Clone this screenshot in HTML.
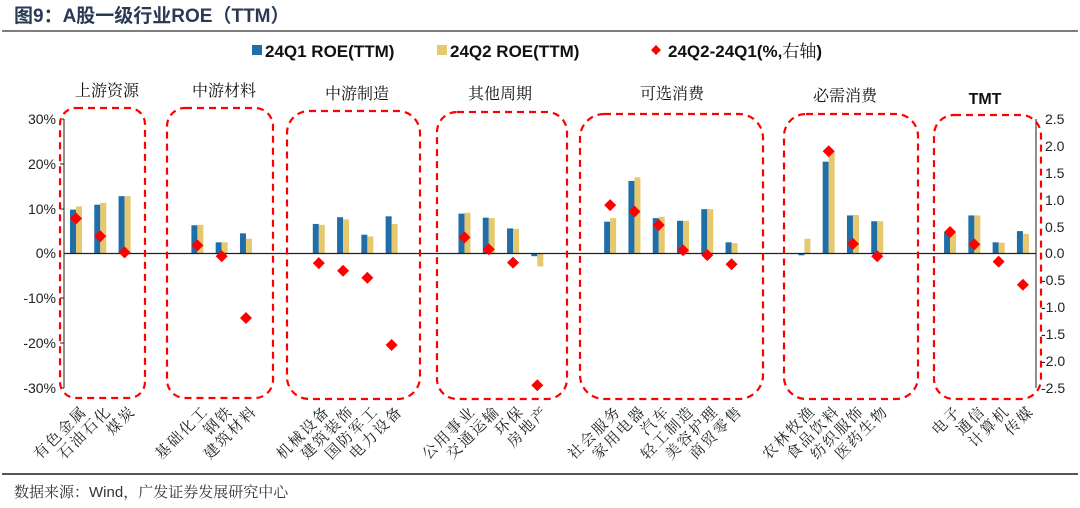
<!DOCTYPE html>
<html><head><meta charset="utf-8"><style>
body{margin:0;background:#fff;}
svg{display:block;}
text{font-family:"Liberation Sans","Noto Sans CJK SC",sans-serif;}
text.s,.s text{font-family:"Liberation Serif","Noto Serif CJK SC",serif;}
</style></head><body>
<svg width="1080" height="508" viewBox="0 0 1080 508" xmlns="http://www.w3.org/2000/svg">
<text x="14" y="22" font-size="19" font-weight="bold" fill="#2a3a55">图9：A股一级行业ROE（TTM）</text>
<line x1="2" y1="31" x2="1078" y2="31" stroke="#555" stroke-width="1.5"/>
<line x1="2" y1="474" x2="1078" y2="474" stroke="#555" stroke-width="2"/>
<text x="14" y="497" font-size="15" fill="#333" class="s">数据来源：<tspan font-family="Liberation Sans">Wind</tspan>，广发证券发展研究中心</text>
<rect x="252" y="45" width="10" height="10" fill="#1f6ea8"/>
<text x="265" y="57" font-size="17" font-weight="bold" fill="#111">24Q1 ROE(TTM)</text>
<rect x="437" y="45" width="10" height="10" fill="#e6c86e"/>
<text x="450" y="57" font-size="17" font-weight="bold" fill="#111">24Q2 ROE(TTM)</text>
<path d="M656 45 L661 50 L656 55 L651 50Z" fill="#f00"/>
<text x="668" y="57" font-size="17" font-weight="bold" fill="#111">24Q2-24Q1(%,<tspan font-weight="normal" font-family="Liberation Serif, Noto Serif CJK SC, serif">右轴</tspan>)</text>
<g font-size="16" fill="#111" text-anchor="middle">
<text x="107" y="96" class="s">上游资源</text>
<text x="224" y="96" class="s">中游材料</text>
<text x="357" y="99" class="s">中游制造</text>
<text x="500" y="99" class="s">其他周期</text>
<text x="672" y="99" class="s">可选消费</text>
<text x="845" y="101" class="s">必需消费</text>
<text x="985" y="104" font-weight="bold">TMT</text>
</g>
<g font-size="14" fill="#222">
<line x1="64" y1="119" x2="64" y2="388" stroke="#222"/>
<g text-anchor="end">
<text x="56" y="124">30%</text><text x="56" y="169">20%</text><text x="56" y="214">10%</text>
<text x="56" y="258">0%</text><text x="56" y="303">-10%</text><text x="56" y="348">-20%</text><text x="56" y="393">-30%</text>
</g>
<line x1="1036" y1="119" x2="1036" y2="388" stroke="#222"/>
<text x="1045" y="124">2.5</text><text x="1045" y="151">2.0</text><text x="1045" y="178">1.5</text>
<text x="1045" y="205">1.0</text><text x="1045" y="232">0.5</text><text x="1045" y="258">0.0</text>
<text x="1041" y="285">-0.5</text><text x="1041" y="312">-1.0</text><text x="1041" y="339">-1.5</text>
<text x="1041" y="366">-2.0</text><text x="1041" y="393">-2.5</text>
</g>
<g stroke="#222">
<line x1="60" y1="119" x2="64" y2="119"/><line x1="60" y1="164" x2="64" y2="164"/><line x1="60" y1="209" x2="64" y2="209"/><line x1="60" y1="298" x2="64" y2="298"/><line x1="60" y1="343" x2="64" y2="343"/><line x1="60" y1="388" x2="64" y2="388"/>
</g>
<g id="bars"></g>
<line x1="64" y1="253.5" x2="1036" y2="253.5" stroke="#222" stroke-width="1.3"/>
<g id="dia"></g>
<g fill="none" stroke="#f00" stroke-width="2.2" stroke-dasharray="7,5">
<rect x="60" y="108" width="85" height="290" rx="16"/>
<rect x="167" y="108" width="106" height="290" rx="18"/>
<rect x="287" y="111" width="133" height="288" rx="22"/>
<rect x="437" y="112" width="130" height="287" rx="20"/>
<rect x="580" y="114" width="183" height="285" rx="24"/>
<rect x="784" y="114" width="134" height="285" rx="22"/>
<rect x="934" y="115" width="107" height="284" rx="20"/>
</g>
<g id="lab" font-size="15" class="s" fill="#222"></g>
</svg>
<script>
var d=[
[0,"有色金属",9.8,10.5,0.65],[1,"石油石化",10.9,11.3,0.32],[2,"煤炭",12.8,12.8,0.02],
[5,"基础化工",6.3,6.4,0.15],[6,"钢铁",2.5,2.5,-0.05],[7,"建筑材料",4.5,3.3,-1.2],
[10,"机械设备",6.6,6.4,-0.18],[11,"建筑装饰",8.1,7.6,-0.32],[12,"国防军工",4.2,3.8,-0.45],[13,"电力设备",8.3,6.6,-1.7],
[16,"公用事业",8.9,9.1,0.3],[17,"交通运输",8.0,7.9,0.08],[18,"环保",5.6,5.5,-0.17],[19,"房地产",-0.6,-2.9,-2.45],
[22,"社会服务",7.1,7.9,0.9],[23,"家用电器",16.2,17.0,0.78],[24,"汽车",7.9,8.2,0.53],[25,"轻工制造",7.3,7.3,0.06],[26,"美容护理",9.9,9.9,-0.03],[27,"商贸零售",2.5,2.3,-0.2],
[30,"农林牧渔",-0.4,3.3,null],[31,"食品饮料",20.5,22.8,1.9],[32,"纺织服饰",8.5,8.6,0.18],[33,"医药生物",7.2,7.2,-0.05],
[36,"电子",4.8,4.5,0.4],[37,"通信",8.5,8.5,0.17],[38,"计算机",2.5,2.4,-0.15],[39,"传媒",5.0,4.4,-0.58]];
var NS="http://www.w3.org/2000/svg",Z=253.5,L=4.48,R=53.8;
function el(p,t,a,tx){var e=document.createElementNS(NS,t);for(var k in a)e.setAttribute(k,a[k]);if(tx)e.textContent=tx;document.getElementById(p).appendChild(e);}
d.forEach(function(r){var c=76+r[0]*24.28;
[[r[2],"#1f6ea8",c-6],[r[3],"#e6c86e",c]].forEach(function(b){var h=b[0]*L;el("bars","rect",{x:b[2],y:h>=0?Z-h:Z,width:6,height:Math.abs(h),fill:b[1]});});
if(r[4]!==null){var y=Z-r[4]*R;el("dia","path",{d:"M"+c+" "+(y-6)+"L"+(c+6)+" "+y+"L"+c+" "+(y+6)+"L"+(c-6)+" "+y+"Z",fill:"#f00"});}
el("lab","text",{x:0,y:0,"text-anchor":"end","letter-spacing":"2",transform:"translate("+(c+12)+",412) rotate(-45)"},r[1]);
});
</script>
</body></html>
